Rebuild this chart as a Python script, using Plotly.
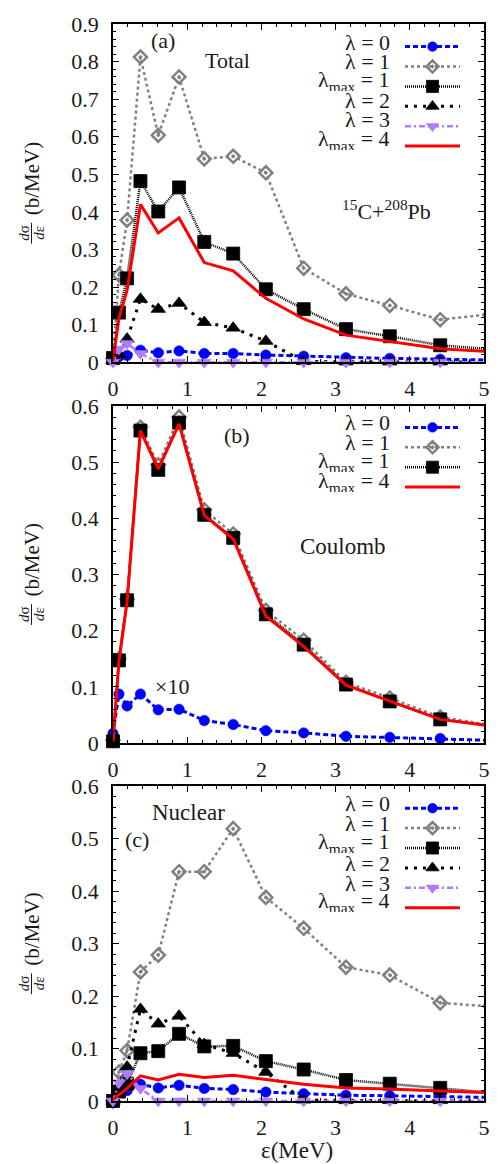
import plotly.graph_objects as go

# ---------------- data ----------------
E = [0.0, 0.08, 0.19, 0.37, 0.61, 0.89, 1.23, 1.62, 2.06, 2.57, 3.14, 3.73, 4.41, 5.0]

# (a) Total
a_lam0 = [0.005, 0.015, 0.018, 0.032, 0.025, 0.030, 0.023, 0.023, 0.019, 0.016, 0.012, 0.010, 0.008, 0.006]
a_lam1 = [0.010, 0.232, 0.378, 0.812, 0.604, 0.759, 0.541, 0.548, 0.504, 0.250, 0.182, 0.151, 0.113, 0.126]
a_lmax1 = [0.011, 0.132, 0.223, 0.482, 0.401, 0.465, 0.320, 0.289, 0.194, 0.141, 0.088, 0.069, 0.045, 0.036]
a_lam2 = [0.005, 0.020, 0.062, 0.168, 0.141, 0.157, 0.106, 0.091, 0.056, 0.002, 0.001, 0.001, 0.001, 0.000]
a_lam3 = [0.000, 0.035, 0.050, 0.023, 0.000, 0.000, 0.000, 0.000, 0.000, 0.000, 0.000, 0.000, 0.000, 0.000]
a_lmax4 = [0.003, 0.117, 0.192, 0.420, 0.344, 0.384, 0.265, 0.243, 0.170, 0.115, 0.072, 0.055, 0.036, 0.029]

# (b) Coulomb  (lambda=0 curve is shown multiplied by 10)
b_lam0_x10 = [0.017, 0.087, 0.066, 0.087, 0.059, 0.060, 0.040, 0.033, 0.022, 0.018, 0.012, 0.010, 0.008, 0.005]
b_lam1 = [0.005, 0.150, 0.256, 0.562, 0.495, 0.580, 0.415, 0.372, 0.236, 0.183, 0.108, 0.080, 0.046, 0.034]
b_lmax1 = [0.003, 0.147, 0.254, 0.556, 0.486, 0.570, 0.406, 0.365, 0.229, 0.175, 0.104, 0.074, 0.042, 0.032]
b_lmax4 = [0.003, 0.145, 0.252, 0.556, 0.488, 0.568, 0.405, 0.363, 0.226, 0.172, 0.103, 0.075, 0.042, 0.032]

# (c) Nuclear
c_lam0 = [0.002, 0.020, 0.020, 0.032, 0.025, 0.030, 0.024, 0.022, 0.017, 0.014, 0.011, 0.010, 0.008, 0.007]
c_lam1 = [0.000, 0.055, 0.096, 0.246, 0.278, 0.437, 0.437, 0.519, 0.388, 0.329, 0.255, 0.240, 0.187, 0.181]
c_lmax1 = [0.000, 0.018, 0.033, 0.091, 0.095, 0.128, 0.104, 0.105, 0.076, 0.060, 0.040, 0.033, 0.025, 0.017]
c_lam2 = [0.000, 0.020, 0.065, 0.175, 0.147, 0.162, 0.108, 0.091, 0.055, 0.002, 0.001, 0.001, 0.001, 0.000]
c_lam3 = [0.000, 0.035, 0.052, 0.024, 0.000, 0.000, 0.000, 0.000, 0.000, 0.000, 0.000, 0.000, 0.000, 0.000]
c_lmax4 = [0.003, 0.012, 0.024, 0.048, 0.040, 0.051, 0.045, 0.049, 0.041, 0.032, 0.025, 0.023, 0.019, 0.016]

x_ticks = [0, 1, 2, 3, 4, 5]
labels = {
    'lam0': 'λ = 0', 'lam1': 'λ = 1', 'lmax1': 'λ<sub>max</sub> = 1',
    'lam2': 'λ = 2', 'lam3': 'λ = 3', 'lmax4': 'λ<sub>max</sub> = 4',
}

# ---------------- layout geometry (pixels) ----------------
W, H = 504, 1164
L, R, T, B = 113, 484, 15, 1101
FONT = 'Liberation Serif'
TXT = '#1a1a1a'


def px(x):
    return (x - L) / (R - L)


def py(y):
    return (B - y) / (B - T)


styles = {
    'lam0': dict(color='#0000FF', dash='5px,3px', width=3, symbol='circle', size=10.5, mlw=0.5),
    'lam1': dict(color='#808080', dash='3px,3px', width=2.5, symbol='diamond-open-dot', size=10, mlw=2.5),
    'lmax1': dict(color='#000000', dash='1px,1px', width=2.5, symbol='square', size=13, mlw=0.8),
    'lam2': dict(color='#000000', dash='3px,6px', width=3, symbol='triangle-up', size=12.5, mlw=0.8),
    'lam3': dict(color='#B07CFF', dash='6px,3px,2px,3px', width=2.5, symbol='triangle-down', size=12, mlw=0.5),
    'lmax4': dict(color='#FF0000', dash='solid', width=3, symbol=None),
}

panels = [
    dict(top=15, bottom=356, ymax=0.9, ydtick=0.1,
         series=[('lam0', a_lam0), ('lam1', a_lam1), ('lmax1', a_lmax1),
                 ('lam2', a_lam2), ('lam3', a_lam3), ('lmax4', a_lmax4)],
         rows=[32.7, 52.7, 72.3, 91.7, 111.0, 131.7]),
    dict(top=400, bottom=740, ymax=0.6, ydtick=0.1,
         series=[('lam0', b_lam0_x10), ('lam1', b_lam1), ('lmax1', b_lmax1), ('lmax4', b_lmax4)],
         rows=[416.7, 436.7, 456.7, 476.7]),
    dict(top=783.5, bottom=1101, ymax=0.6, ydtick=0.1,
         series=[('lam0', c_lam0), ('lam1', c_lam1), ('lmax1', c_lmax1),
                 ('lam2', c_lam2), ('lam3', c_lam3), ('lmax4', c_lmax4)],
         rows=[800.7, 820.7, 841.0, 861.0, 881.0, 900.7]),
]

fig = go.Figure()
annotations = []
shapes = []
layout_extra = {}

for i, p in enumerate(panels):
    n = i + 1
    xa = 'x' if n == 1 else f'x{n}'
    ya = 'y' if n == 1 else f'y{n}'
    leg = 'legend' if n == 1 else f'legend{n}'
    for key, vals in p['series']:
        s = styles[key]
        npts = len(vals)
        if s['symbol'] is None:
            mode = 'lines'
            marker = None
        else:
            mode = 'lines+markers'
            sizes = [s['size']] * (npts - 1) + [0]
            if s['symbol'].endswith('open-dot'):
                marker = dict(symbol=s['symbol'], size=sizes, color=s['color'], opacity=1,
                              line=dict(color=s['color'], width=s['mlw']))
            else:
                marker = dict(symbol=s['symbol'], size=sizes, color=s['color'], opacity=1,
                              line=dict(color=s['color'], width=s['mlw']))
        fig.add_trace(go.Scatter(
            x=E[:npts], y=vals, mode=mode, name=' ',
            line=dict(color=s['color'], width=s['width'], dash=s['dash']),
            marker=marker, cliponaxis=False, xaxis=xa, yaxis=ya,
            legend=leg, showlegend=True, hoverinfo='skip'))

    ax_common = dict(showline=True, linecolor='black', linewidth=1.5, mirror='allticks',
                     ticks='inside', ticklen=6, tickwidth=1.2, tickcolor='black',
                     showgrid=False, zeroline=False,
                     tickfont=dict(family=FONT, size=22, color=TXT))
    xk = 'xaxis' if n == 1 else f'xaxis{n}'
    yk = 'yaxis' if n == 1 else f'yaxis{n}'
    ticks_y = [round(k * p['ydtick'], 1) for k in range(int(round(p['ymax'] / p['ydtick'])) + 1)]
    layout_extra[xk] = dict(ax_common, domain=[0, 1], range=[0, 5], tickvals=x_ticks,
                            ticktext=[str(v) for v in x_ticks],
                            anchor=ya, ticklabelstandoff=6,
                            minor=dict(dtick=0.2, ticks='inside', ticklen=3, tickcolor='black'))
    layout_extra[yk] = dict(ax_common, domain=[py(p['bottom']), py(p['top'])],
                            range=[0, p['ymax']], tickvals=ticks_y,
                            ticktext=['0' if v == 0 else f'{v:.1f}' for v in ticks_y],
                            anchor=xa, ticklabelstandoff=8,
                            minor=dict(dtick=0.02, tick0=0, ticks='inside', ticklen=3, tickcolor='black'))

    # legend (symbols only, text drawn to the left as annotations)
    layout_extra[leg] = dict(x=px(400), y=py(p['rows'][0] - 10), xanchor='left', yanchor='top',
                             bgcolor='rgba(0,0,0,0)', borderwidth=0, itemwidth=55,
                             font=dict(size=13, color='rgba(0,0,0,0)'), tracegroupgap=0)
    for (key, _), row in zip(p['series'], p['rows']):
        annotations.append(dict(x=px(392), y=py(row), xref='paper', yref='paper',
                                xanchor='right', yanchor='middle', showarrow=False,
                                height=20, valign='middle',
                                text=labels[key], font=dict(family=FONT, size=22, color=TXT)))

    # y-axis title: fraction d sigma / d epsilon followed by (b/MeV)
    yc = (p['top'] + p['bottom']) / 2
    annotations.append(dict(x=px(32), y=py(yc - 14), xref='paper', yref='paper',
                            xanchor='center', yanchor='middle', showarrow=False, textangle=-90,
                            text='(b/MeV)', font=dict(family=FONT, size=21, color=TXT)))
    annotations.append(dict(x=px(24), y=py(yc + 40), xref='paper', yref='paper',
                            xanchor='center', yanchor='middle', showarrow=False, textangle=-90,
                            text='<i>d</i>σ', font=dict(family=FONT, size=15, color=TXT)))
    annotations.append(dict(x=px(39), y=py(yc + 40), xref='paper', yref='paper',
                            xanchor='center', yanchor='middle', showarrow=False, textangle=-90,
                            text='<i>d</i>ε', font=dict(family=FONT, size=15, color=TXT)))
    shapes.append(dict(type='line', xref='paper', yref='paper',
                       x0=px(31.5), x1=px(31.5), y0=py(yc + 30), y1=py(yc + 51),
                       line=dict(color=TXT, width=1)))

# panel texts
txt = [
    ('(a)', 163, 32, 22), ('Total', 227, 52, 22), ('<sup>15</sup>C+<sup>208</sup>Pb', 386, 203, 22),
    ('(b)', 237, 430, 22), ('Coulomb', 343, 542, 23), ('×10', 172, 683, 22),
    ('Nuclear', 188, 810, 23), ('(c)', 137, 837, 22),
    ('ε(MeV)', 297, 1151, 23),
]
for t, x, y, fs in txt:
    annotations.append(dict(x=px(x), y=py(y), xref='paper', yref='paper',
                            xanchor='center', yanchor='middle', showarrow=False,
                            text=t, font=dict(family=FONT, size=fs, color=TXT)))

fig.update_layout(
    width=W, height=H,
    margin=dict(l=L, r=W - R, t=T, b=H - B, pad=0),
    paper_bgcolor='white', plot_bgcolor='white',
    annotations=annotations, shapes=shapes,
    font=dict(family=FONT),
    **layout_extra,
)

fig.write_html('out.html')
